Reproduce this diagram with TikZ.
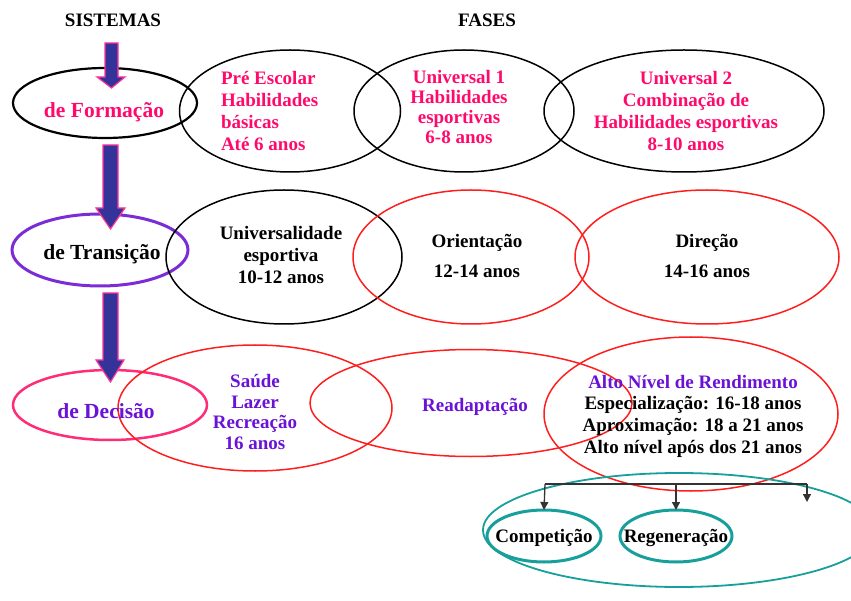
\documentclass[tikz,border=0pt]{standalone}
\usepackage{fontspec}
\setmainfont{Liberation Serif}
\usetikzlibrary{shapes.geometric,arrows.meta}
\definecolor{pinktxt}{HTML}{FF0A6C}
\definecolor{purptxt}{HTML}{6A12D6}
\definecolor{redl}{HTML}{FF1E1E}
\definecolor{purpl}{HTML}{7B2CD6}
\definecolor{pinkl}{HTML}{FF2D78}
\definecolor{teall}{HTML}{17A09B}
\definecolor{arrfill}{HTML}{333399}
\definecolor{arrline}{HTML}{FF3399}
\definecolor{connl}{HTML}{333333}
\tikzset{
  every node/.style={inner sep=0pt, outer sep=0pt},
  ell/.style={ellipse, draw},
  blockarrow/.style={fill=arrfill, draw=arrline, line width=1.2pt, line join=miter},
  hdr/.style={font=\fontsize{19}{21}\selectfont\bfseries, anchor=base},
  sysl/.style={font=\fontsize{21.5}{24}\selectfont\bfseries, anchor=base},
  fase/.style={align=center, font=\fontsize{19}{21.7}\selectfont\bfseries},
  conn/.style={draw=connl, line width=1.3pt},
  tip/.style={-{Triangle[width=8pt,length=8pt]}}
}
\begin{document}
\begin{tikzpicture}[x=1pt,y=-1pt]
\useasboundingbox (0,0) rectangle (851,601);
% sistemas ellipses
\node[ell, draw=black, line width=2.2pt, minimum width=184pt, minimum height=70pt] (form) at (105,103) {};
\node[ell, draw=purpl, line width=3pt, minimum width=176pt, minimum height=72pt] (trans) at (100,250) {};
\node[ell, draw=pinkl, line width=2.5pt, minimum width=194pt, minimum height=70pt] (dec) at (110,405) {};
% row 1
\node[ell, draw=black, line width=1.5pt, minimum width=221pt, minimum height=122pt] (e1) at (290,111) {};
\node[ell, draw=black, line width=1.5pt, minimum width=220pt, minimum height=122pt] (e2) at (464,111) {};
\node[ell, draw=black, line width=1.5pt, minimum width=280pt, minimum height=122pt] (e3) at (684,111) {};
% row 2
\node[ell, draw=black, line width=1.5pt, minimum width=236pt, minimum height=134pt] (e4) at (284,257) {};
\node[ell, draw=redl, line width=1.5pt, minimum width=236pt, minimum height=134pt] (e5) at (471,257) {};
\node[ell, draw=redl, line width=1.5pt, minimum width=264pt, minimum height=134pt] (e6) at (707,257) {};
% row 3
\node[ell, draw=redl, line width=1.5pt, minimum width=274pt, minimum height=126pt] (e7) at (255,408) {};
\node[ell, draw=redl, line width=1.5pt, minimum width=322pt, minimum height=107pt] (e8) at (471,403) {};
\node[ell, draw=redl, line width=1.5pt, minimum width=294pt, minimum height=154pt] (e9) at (691,414) {};
% teal group
\node[ell, draw=teall, line width=1.8pt, minimum width=392pt, minimum height=114pt] (grp) at (679,530) {};
\node[ell, draw=teall, line width=3pt, minimum width=114pt, minimum height=52pt] (comp) at (544,536) {};
\node[ell, draw=teall, line width=3pt, minimum width=112pt, minimum height=52pt] (regen) at (676,536) {};
% block arrows
\draw[blockarrow] (105,43) -- (118,43) -- (118,77) -- (125,77) -- (111.5,88) -- (97,77) -- (105,77) -- cycle;
\draw[blockarrow] (103,145) -- (118,145) -- (118,208) -- (125,208) -- (110.5,229) -- (96,208) -- (103,208) -- cycle;
\draw[blockarrow] (103,293) -- (118,293) -- (118,360) -- (124,360) -- (110.5,382) -- (96,360) -- (103,360) -- cycle;
% connectors
\coordinate (j1) at (545,484);
\coordinate (j2) at (676,484);
\coordinate (j3) at (807,484);
\coordinate (j4) at (807,502);
\draw[conn] (j1) -- (j3);
\draw[conn, tip] (j1) -- (comp.north);
\draw[conn, tip] (j2) -- (regen.north);
\draw[conn, tip] (j3) -- (j4);
% headers
\node[hdr] (hs) at (113,27) {SISTEMAS};
\node[hdr] (hf) at (487,27) {FASES};
% sistema labels
\node[sysl, text=pinktxt] (tform) at (104,118) {de Formação};
\node[sysl, text=black] (ttrans) at (102,260) {de Transição};
\node[sysl, text=purptxt] (tdec) at (106,418) {de Decisão};
% row 1 texts
\node[fase, align=left, anchor=west, text=pinktxt] (t1) at (221,111) {Pré Escolar\\Habilidades\\básicas\\Até 6 anos};
\node[fase, text=pinktxt, font=\fontsize{19}{20}\selectfont\bfseries] (t2) at (459,107) {Universal 1\\Habilidades\\esportivas\\6-8 anos};
\node[fase, text=pinktxt] (t3) at (686,111) {Universal 2\\Combinação de\\Habilidades esportivas\\8-10 anos};
% row 2 texts
\node[fase, text=black] (t4) at (281,255) {Universalidade\\esportiva\\10-12 anos};
\node[fase, text=black] (t5) at (477,256) {Orientação\\[9pt]12-14 anos};
\node[fase, text=black] (t6) at (707,256) {Direção\\[9pt]14-16 anos};
% row 3 texts
\node[fase, text=purptxt, font=\fontsize{19}{20.5}\selectfont\bfseries] (t7) at (255,412) {Saúde\\Lazer\\Recreação\\16 anos};
\node[fase, text=purptxt] (t8) at (475,407) {Readaptação};
\node[fase, text=black] (t9) at (693,416) {\textcolor{purptxt}{Alto Nível de Rendimento}\\Especialização: 16-18 anos\\Aproximação: 18 a 21 anos\\Alto nível após dos 21 anos};
% teal texts
\node[fase, text=black] (tc) at (544,538) {Competição};
\node[fase, text=black] (tr) at (676,538) {Regeneração};
\end{tikzpicture}
\end{document}
